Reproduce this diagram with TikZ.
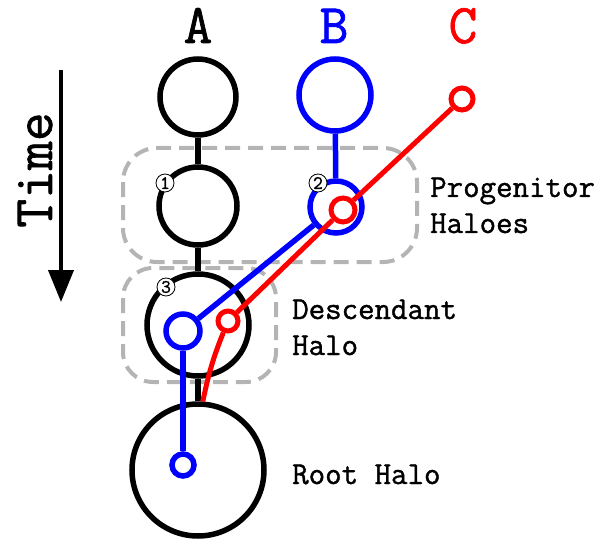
\documentclass[tikz,border=0pt]{standalone}
\usepackage{fontspec}
\newfontfamily\mono{Latin Modern Mono}[FakeBold=1.2]
\usetikzlibrary{arrows.meta}
\definecolor{boxgray}{RGB}{180,180,180}
\begin{document}
\begin{tikzpicture}[x=1pt,y=-1pt,
  halo/.style={circle,draw=black,line width=5.5pt,fill=white,inner sep=0pt,minimum size=#1},
  bhalo/.style={circle,draw=blue,line width=5.5pt,fill=white,inner sep=0pt,minimum size=#1},
  rhalo/.style={circle,draw=red,line width=5pt,fill=white,inner sep=0pt,minimum size=#1},
  blink/.style={line width=6.5pt,black},
  bluelink/.style={line width=5.5pt,blue},
  redlink/.style={line width=5pt,red},
  grpbox/.style={draw=boxgray,line width=4pt,dash pattern=on 15pt off 8pt},
  marker/.style={circle,draw=black,line width=0.8pt,fill=white,inner sep=0pt,minimum size=18pt,font=\mono\fontsize{19}{19}\selectfont},
  lbl/.style={anchor=base west,inner sep=0pt,font=\mono\fontsize{32}{36}\selectfont,align=left},
  head/.style={anchor=base,inner sep=0pt,font=\mono\fontsize{56}{60}\selectfont}]
\useasboundingbox (0,0) rectangle (598,543);
% group boxes
\draw[grpbox,rounded corners=34pt] (123,148) rectangle (417,262);
\draw[grpbox,rounded corners=30pt] (123,268) rectangle (276,382);
% column heads
\node[head] (hA) at (198,43) {A};
\node[head,text=blue] (hB) at (334,43) {B};
\node[head,text=red] (hC) at (463,43) {C};
% time arrow
\node[head,rotate=90] (time) at (52,170) {Time};
\coordinate (tTop) at (61,70);
\coordinate (tBot) at (61,302);
\draw[line width=4pt,-{Triangle[length=32pt,width=25pt]}] (tTop) -- (tBot);
% black halos
\node[halo=76pt] (A) at (198,97) {};
\node[halo=78pt] (n1) at (198,206) {};
\node[halo=102pt] (n3) at (198,325) {};
\node[halo=132pt] (root) at (198,470) {};
\draw[blink] (A) -- (n1);
\draw[blink] (n1) -- (n3);
\draw[blink] (n3) -- (root);
% blue
\node[bhalo=72pt] (B) at (335,95) {};
\node[bhalo=52pt] (b2) at (336,207) {};
\node[bhalo=34pt] (b3) at (183,331) {};
\node[bhalo=22pt] (broot) at (183,465) {};
\draw[bluelink] (B) -- (b2);
\draw[bluelink] (b2) -- (b3);
\draw[bluelink] (b3) -- (broot);
% red
\node[rhalo=22pt] (C) at (462,99) {};
\node[rhalo=24pt] (r2) at (343,210) {};
\node[rhalo=20pt] (r3) at (228,321) {};
\draw[redlink] (C) -- (r2);
\draw[redlink] (r2) -- (r3);
\draw[redlink] (r3) to[out=-112,in=78] (root.86);
% markers
\node[marker] (m1) at (165,183) {1};
\node[marker] (m2) at (318,183) {2};
\node[marker] (m3) at (166,287) {3};
% labels
\node[lbl] (lp) at (430,233) {Progenitor\\Haloes};
\node[lbl] (ld) at (292,355) {Descendant\\Halo};
\node[lbl] (lr) at (292,484) {Root Halo};
\end{tikzpicture}
\end{document}
